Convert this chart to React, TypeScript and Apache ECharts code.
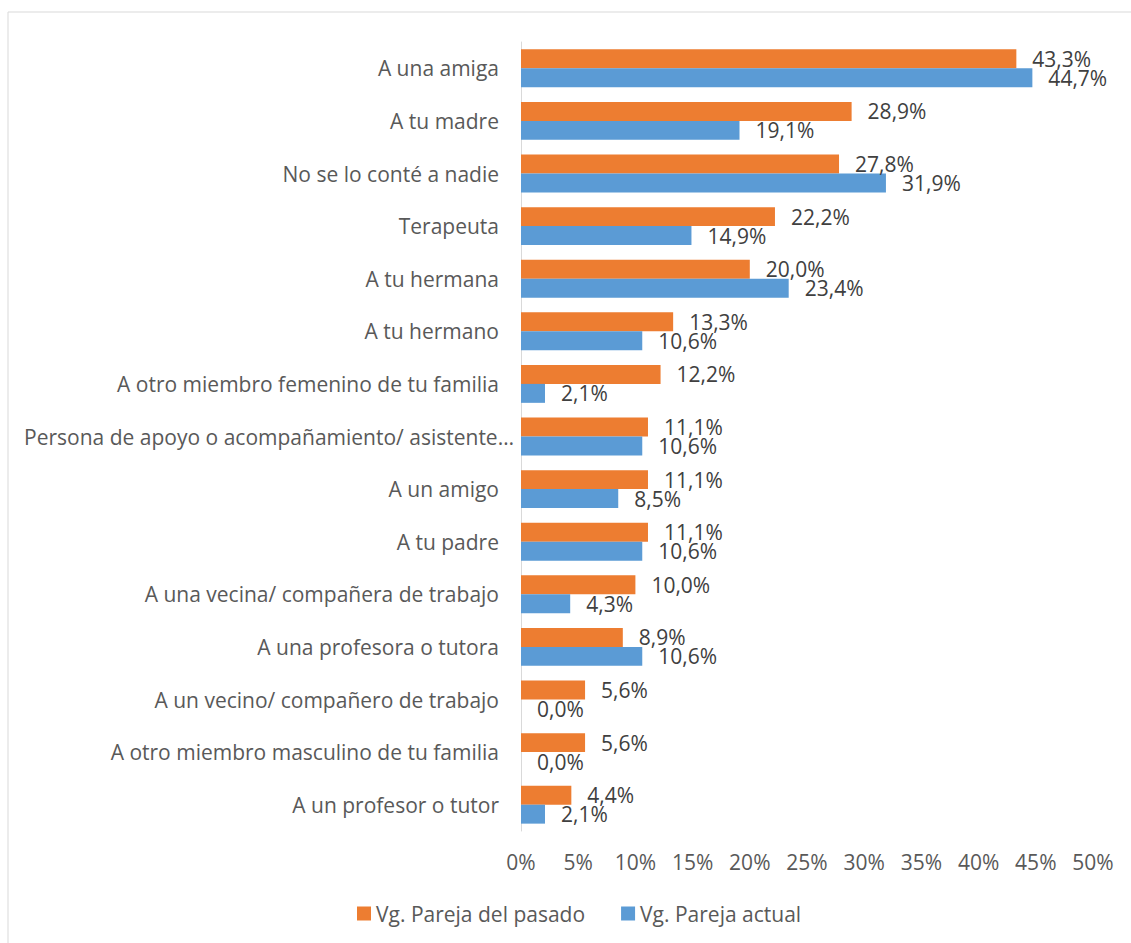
import React, { useEffect, useRef } from "react";
import * as echarts from "echarts";

const categories = [
  "A una amiga",
  "A tu madre",
  "No se lo conté a nadie",
  "Terapeuta",
  "A tu hermana",
  "A tu hermano",
  "A otro miembro femenino de tu familia",
  "Persona de apoyo o acompañamiento/ asistente…",
  "A un amigo",
  "A tu padre",
  "A una vecina/ compañera de trabajo",
  "A una profesora o tutora",
  "A un vecino/ compañero de trabajo",
  "A otro miembro masculino de tu familia",
  "A un profesor o tutor",
];
const pastValues = [43.3, 28.9, 27.8, 22.2, 20.0, 13.3, 12.2, 11.1, 11.1, 11.1, 10.0, 8.9, 5.6, 5.6, 4.4];
const currentValues = [44.7, 19.1, 31.9, 14.9, 23.4, 10.6, 2.1, 10.6, 8.5, 10.6, 4.3, 10.6, 0.0, 0.0, 2.1];
const seriesNames = ["Vg. Pareja del pasado", "Vg. Pareja actual"];
const xTicks = { min: 0, max: 50, interval: 5 };

const FONT = "'Open Sans', 'Noto Sans', sans-serif";
const fmt = (v: number) => v.toFixed(1).replace(".", ",") + "%";

export default function App() {
  const ref = useRef<HTMLDivElement>(null);
  useEffect(() => {
    if (!ref.current) return;
    const chart = echarts.init(ref.current, undefined, { renderer: "svg" });
    const labelStyle = {
      show: true,
      position: "right" as const,
      distance: 16,
      color: "#404040",
      fontSize: 21,
      fontFamily: FONT,
      formatter: (p: any) => fmt(p.value),
    };
    const yData = categories.map((c) =>
      c.endsWith("…")
        ? { value: c, textStyle: { padding: [0, -15, 0, 0] } }
        : c
    );
    chart.setOption({
      animation: false,
      backgroundColor: "#ffffff",
      textStyle: { fontFamily: FONT },
      graphic: [
        {
          type: "rect",
          shape: { x: 8, y: 12, width: 1300, height: 1100 },
          style: { fill: "none", stroke: "#d9d9d9", lineWidth: 1 },
          silent: true,
        },
      ],
      legend: {
        bottom: 14,
        left: 352,
        itemWidth: 14,
        itemHeight: 14,
        itemGap: 36,
        icon: "rect",
        textStyle: { color: "#595959", fontSize: 21, fontFamily: FONT },
        data: seriesNames,
      },
      grid: { left: 521, right: 38, top: 42, bottom: 112, containLabel: false },
      xAxis: {
        type: "value",
        min: xTicks.min,
        max: xTicks.max,
        interval: xTicks.interval,
        axisLine: { show: false },
        axisTick: { show: false },
        splitLine: { show: false },
        axisLabel: {
          formatter: "{value}%",
          color: "#595959",
          fontSize: 21,
          fontFamily: FONT,
          margin: 20,
        },
      },
      yAxis: {
        type: "category",
        inverse: true,
        data: yData,
        axisLine: { show: true, lineStyle: { color: "#d9d9d9", width: 1 } },
        axisTick: { show: false },
        axisLabel: {
          color: "#595959",
          fontSize: 21,
          fontFamily: FONT,
          margin: 22,
        },
      },
      series: [
        {
          name: seriesNames[0],
          type: "bar",
          data: pastValues,
          barGap: "0%",
          barCategoryGap: "28%",
          itemStyle: { color: "#ED7D31" },
          label: labelStyle,
        },
        {
          name: seriesNames[1],
          type: "bar",
          data: currentValues,
          barGap: "0%",
          barCategoryGap: "28%",
          itemStyle: { color: "#5B9BD5" },
          label: labelStyle,
        },
      ],
    });
    return () => chart.dispose();
  }, []);
  return (
    <div
      ref={ref}
      style={{ position: "fixed", left: 0, top: 0, width: 1131, height: 943 }}
    />
  );
}
